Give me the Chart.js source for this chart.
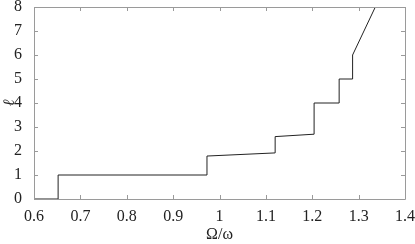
<!DOCTYPE html>
<html>
<head>
<meta charset="utf-8">
<script src="https://cdn.jsdelivr.net/npm/chart.js@4"></script>
<style>
  html, body { margin: 0; padding: 0; background: #fff; font-size: 11px; font-family: serif; }
  #wrap { width: 415px; height: 244px; }
</style>
</head>
<body>
<div id="wrap"><canvas id="chart"></canvas></div>
<script>
/* data */
const ratioValues = [0.6, 0.652, 0.652, 0.973, 0.973, 1.12, 1.12, 1.204, 1.204, 1.258, 1.258, 1.287, 1.287, 1.336];
const ellValues = [0, 0, 1, 1, 1.79, 1.92, 2.6, 2.7, 4, 4, 5, 5, 6, 8];

const xTitle = "Ω/ω";
const yTitle = "ℓ";

const fontFamily = "Liberation Serif, serif";
const frameColor = "#9a9a9a";

/* box + inward ticks on all four sides */
const frameTicks = {
    id: "frameTicks",
    afterDraw(chart) {
        const ctx = chart.ctx;
        const area = chart.chartArea;
        const xScale = chart.scales.x;
        const yScale = chart.scales.y;
        const len = 4;
        ctx.save();
        ctx.strokeStyle = frameColor;
        ctx.lineWidth = 1;
        ctx.beginPath();
        ctx.rect(Math.round(area.left) + 0.5, Math.round(area.top) + 0.5,
            Math.round(area.right - area.left), Math.round(area.bottom - area.top));
        xScale.ticks.forEach(t => {
            const px = Math.round(xScale.getPixelForValue(t.value)) + 0.5;
            ctx.moveTo(px, area.bottom);
            ctx.lineTo(px, area.bottom - len);
            ctx.moveTo(px, area.top);
            ctx.lineTo(px, area.top + len);
        });
        yScale.ticks.forEach(t => {
            const py = Math.round(yScale.getPixelForValue(t.value)) + 0.5;
            ctx.moveTo(area.left, py);
            ctx.lineTo(area.left + len, py);
            ctx.moveTo(area.right, py);
            ctx.lineTo(area.right - len, py);
        });
        ctx.stroke();
        ctx.restore();
    }
};

const chart = new Chart(document.querySelector("#chart"), {
    type: "line",
    data: {
        datasets: [
            {
                data: ratioValues.map((x, i) => ({ x: x, y: ellValues[i] })),
                borderColor: "#222",
                borderWidth: 1,
                pointRadius: 0,
                tension: 0,
                fill: false
            }
        ]
    },
    options: {
        responsive: true,
        maintainAspectRatio: false,
        animation: false,
        layout: {
            padding: { top: 7, right: 10, left: 0, bottom: 0 }
        },
        plugins: {
            legend: { display: false },
            tooltip: { enabled: false }
        },
        scales: {
            x: {
                type: "linear",
                min: 0.6,
                max: 1.4,
                grid: { display: false },
                border: { display: false },
                ticks: {
                    stepSize: 0.1,
                    padding: 0,
                    maxRotation: 0,
                    color: "#222",
                    font: { family: fontFamily, size: 16 },
                    callback: value => String(Number(value.toFixed(1)))
                },
                title: {
                    display: true,
                    text: xTitle,
                    padding: 0,
                    color: "#222",
                    font: { family: fontFamily, size: 16 }
                },
                afterFit(scale) { scale.height = 45; }
            },
            y: {
                min: 0,
                max: 8,
                grid: { display: false },
                border: { display: false },
                ticks: {
                    stepSize: 1,
                    padding: 4,
                    color: "#222",
                    font: { family: fontFamily, size: 16 }
                },
                title: {
                    display: true,
                    text: yTitle,
                    padding: 0,
                    color: "#222",
                    font: { family: fontFamily, size: 16, style: "italic" }
                },
                afterFit(scale) {
                    scale.width = 34;
                    scale.paddingTop = 0;
                    scale.paddingBottom = 0;
                }
            }
        }
    },
    plugins: [frameTicks]
});
chart.update();
</script>
</body>
</html>
